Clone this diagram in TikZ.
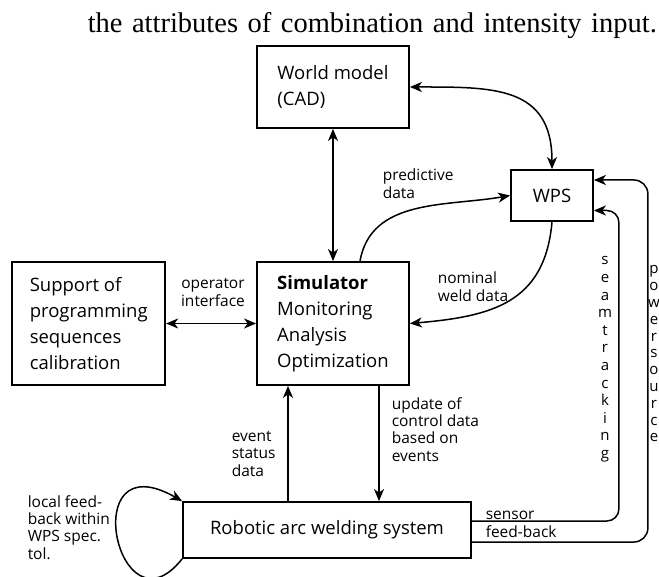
\documentclass[tikz,border=0pt]{standalone}
\usepackage{fontspec}
\setmainfont{Liberation Serif}
\setsansfont{Open Sans}
\usetikzlibrary{arrows.meta,positioning}

\newcommand{\boxfont}{\sffamily\fontsize{18.5}{25.8}\selectfont}
\newcommand{\lblfont}{\sffamily\fontsize{15.5}{17.3}\selectfont}
\tikzset{
  box/.style={draw, line width=1.8pt, font=\boxfont, align=left, inner sep=0pt},
  lbl/.style={font=\lblfont, align=left, inner sep=0pt},
  vlbl/.style={font=\sffamily\fontsize{15}{#1}\selectfont, align=center, inner sep=0pt, anchor=north},
}

\begin{document}
\begin{tikzpicture}[x=1pt,y=-1pt,>={Stealth[length=12pt,width=10pt,inset=3.5pt]},->,line width=1.5pt]
\useasboundingbox (0,0) rectangle (659,577);

\node[anchor=base west, inner sep=0pt, font=\fontsize{28.5}{32}\selectfont] (caption) at (87,33)
  {\spaceskip=9.5pt\relax the attributes of combination and intensity input.};

\node[box, minimum width=152pt, minimum height=82pt] (world) at (333,87) {World model\\(CAD)};
\node[box, minimum width=82pt, minimum height=51pt, align=center] (wps) at (552,195.5) {WPS};
\node[box, minimum width=152pt, minimum height=123pt] (sim) at (333,323.5)
  {\textbf{Simulator}\\Monitoring\\Analysis\\Optimization};
\node[box, minimum width=153pt, minimum height=123pt, left=90pt of sim] (sup)
  {Support of\\programming\\sequences\\calibration};
\node[box, minimum width=288pt, minimum height=56pt, align=center] (rob) at (327,530) {Robotic arc welding system};

\node[lbl, anchor=south west] (pred) at (382,199) {predictive\\data};
\node[lbl, anchor=south west] (nom) at (437,302) {nominal\\weld data};
\node[lbl, anchor=south, align=center] (opif) at (213,307) {operator\\interface};
\node[lbl, anchor=south west] (evt) at (231,477) {event\\status\\data};
\node[lbl, anchor=south west] (upd) at (391,462) {update of\\control data\\based on\\events};
\node[lbl, anchor=south west] (loc) at (27,560) {local feed-\\back within\\WPS spec.\\tol.};
\node[lbl, anchor=south west] (sens) at (485,538) {sensor\\feed-back};
\node[vlbl=17.6] (seam) at (605,256) {s\\e\\a\\m\\t\\r\\a\\c\\k\\i\\n\\g};
\node[vlbl=16.8] (pow) at (654,265) {p\\o\\w\\e\\r\\s\\o\\u\\r\\c\\e};

\path (world) edge[<->] (sim)
      (sup) edge[<->] (sim)
      (world.east) edge[<->, out=0, in=90, looseness=1.3] (wps.north)
      ([xshift=27pt]sim.north) edge[out=80, in=190] (wps.west)
      (wps.south) edge[out=-95, in=5, looseness=1.2] (sim.east)
      ([xshift=-39pt]rob.north) edge ([xshift=-39pt]rob.north |- sim.south)
      ([xshift=52pt]rob.north |- sim.south) edge ([xshift=52pt]rob.north);

\draw (rob.south west) .. controls (118,640) and (75,440) .. (rob.north west);
\draw[rounded corners=12pt] ([yshift=9pt]rob.east) -- ++(147,0) |- ([yshift=-15pt]wps.east);
\draw[rounded corners=14pt] ([yshift=-12pt]rob.east) -- ++(176,0) |- ([yshift=15.5pt]wps.east);
\end{tikzpicture}
\end{document}
